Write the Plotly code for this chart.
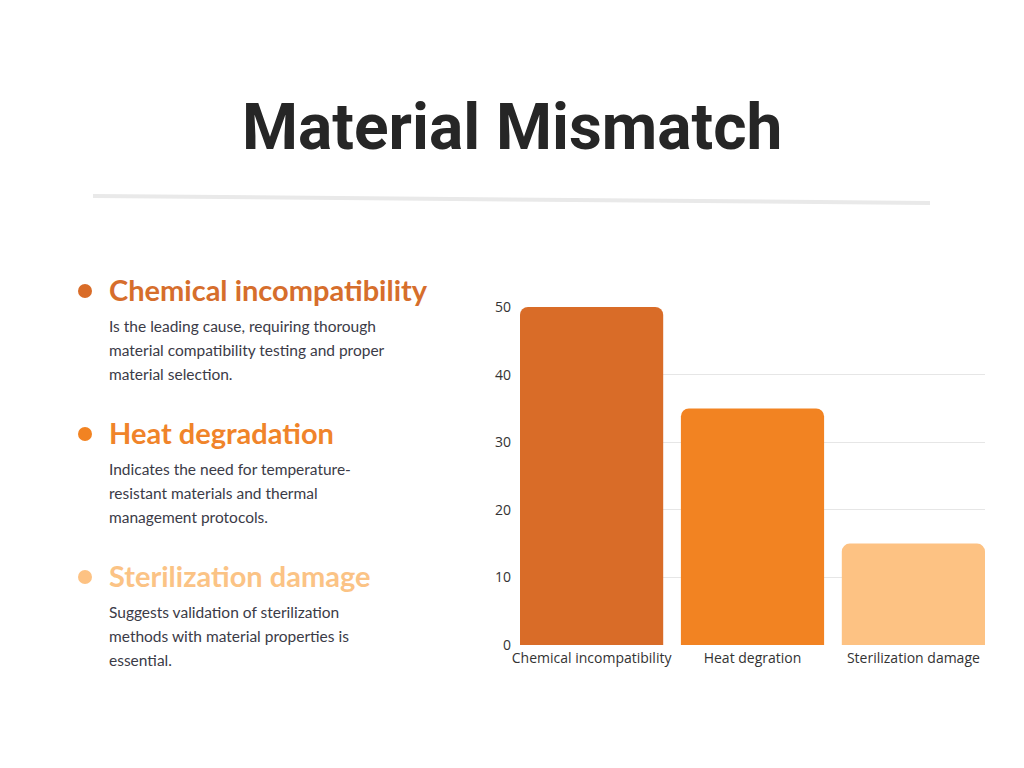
import plotly.graph_objects as go

# ── DATA ──────────────────────────────────────────────────────────────────────

CATEGORIES = ["Chemical incompatibility", "Heat degration", "Sterilization damage"]
VALUES = [50, 35, 15]
BAR_COLORS = ["#D96C28", "#F28322", "#FDC283"]

TITLE = "Material Mismatch"
HEADINGS = ["Chemical incompatibility", "Heat degradation", "Sterilization damage"]
HEADING_COLORS = ["#D66E2C", "#F0842A", "#FBC385"]
BODY_LINES = [
    ["Is the leading cause, requiring thorough",
     "material compatibility testing and proper",
     "material selection."],
    ["Indicates the need for temperature-",
     "resistant materials and thermal",
     "management protocols."],
    ["Suggests validation of sterilization",
     "methods with material properties is",
     "essential."],
]

# page is 1024x768, the html body adds an 8px margin round the figure
FW, FH = 1008, 752
PAD = 8
BARGAP = 0.11


def px(x):
    return (x - PAD) / FW


def py(y):
    return 1 - (y - PAD) / FH


fig = go.Figure()

fig.add_trace(go.Bar(
    x=CATEGORIES,
    y=VALUES,
    marker=dict(color=BAR_COLORS, line=dict(width=0)),
    hoverinfo="x+y",
))

# title + divider
fig.add_annotation(
    x=px(512), y=py(128), xref="paper", yref="paper",
    text=TITLE, showarrow=False, xanchor="center", yanchor="middle",
    font=dict(family="Roboto", size=64, color="#262626", weight=700),
)
fig.add_shape(
    type="line", xref="paper", yref="paper",
    x0=px(93), y0=py(196), x1=px(930), y1=py(203),
    line=dict(color="#E9E9E9", width=4),
)

# left-hand bullet list
head_y = [291, 434, 577]
for i, heading in enumerate(HEADINGS):
    y0 = head_y[i]
    r = 7
    fig.add_shape(
        type="circle", xref="paper", yref="paper",
        x0=px(85 - r), x1=px(85 + r), y0=py(y0 + r), y1=py(y0 - r),
        fillcolor=BAR_COLORS[i], line=dict(width=0),
    )
    fig.add_annotation(
        x=px(107), y=py(y0 - 2), xref="paper", yref="paper",
        text=heading, showarrow=False, xanchor="left", yanchor="middle",
        font=dict(family="Lato", size=29, color=HEADING_COLORS[i], weight=700),
    )
    for j, line in enumerate(BODY_LINES[i]):
        fig.add_annotation(
            x=px(107), y=py(y0 + 35 + 24 * j), xref="paper", yref="paper",
            text=line, showarrow=False, xanchor="left", yanchor="middle",
            font=dict(family="Lato", size=15.5, color="#3B3B47"),
        )

fig.update_layout(
    width=FW,
    height=FH,
    margin=dict(l=0, r=0, t=0, b=0),
    paper_bgcolor="white",
    plot_bgcolor="white",
    showlegend=False,
    bargap=BARGAP,
    barcornerradius=8,
    xaxis=dict(
        domain=[px(520), px(985)],
        range=[-0.5 + BARGAP / 2, len(CATEGORIES) - 0.5 - BARGAP / 2],
        showgrid=False,
        showline=False,
        ticks="",
        automargin=False,
        ticklabelstandoff=3,
        tickfont=dict(family="Open Sans", size=14, color="#333333"),
    ),
    yaxis=dict(
        domain=[py(645), py(307)],
        range=[0, 50],
        tickvals=[0, 10, 20, 30, 40, 50],
        showgrid=True,
        gridcolor="#E6E6E6",
        gridwidth=1,
        zeroline=False,
        showline=False,
        ticks="",
        automargin=False,
        ticklabelstandoff=8,
        tickfont=dict(family="Open Sans", size=14, color="#333333"),
    ),
)

fig.write_html("out.html")
